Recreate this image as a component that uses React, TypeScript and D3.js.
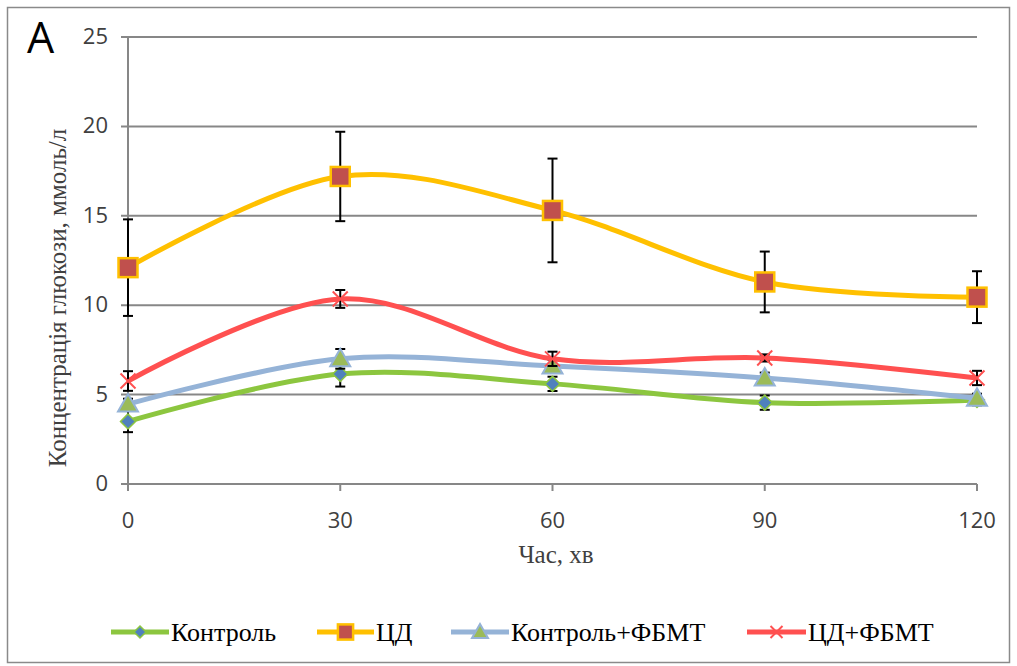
import React from "react";
import * as d3 from "d3";

const timePoints = [0, 30, 60, 90, 120];
const controlValues = [3.5, 6.15, 5.6, 4.55, 4.7];
const controlErrors = [0.6, 0.7, 0.4, 0.4, 0.3];
const cdValues = [12.1, 17.2, 15.3, 11.3, 10.45];
const cdErrors = [2.7, 2.5, 2.9, 1.7, 1.45];
const controlFbmtValues = [4.47, 7.0, 6.6, 5.93, 4.8];
const controlFbmtErrors = [0.3, 0.55, 0.35, 0.3, 0.25];
const cdFbmtValues = [5.76, 10.35, 7.0, 7.05, 5.93];
const cdFbmtErrors = [0.55, 0.5, 0.4, 0.2, 0.4];
const yTicks = [0, 5, 10, 15, 20, 25];
const seriesNames = ["Контроль", "ЦД", "Контроль+ФБМТ", "ЦД+ФБМТ"];

type Marker = "diamond" | "square" | "triangle" | "x";
const series = [
  { name: seriesNames[0], values: controlValues, errors: controlErrors, line: "#8cc63f", marker: "diamond" as Marker, fill: "#4f81bd", stroke: "#8cc63f" },
  { name: seriesNames[1], values: cdValues, errors: cdErrors, line: "#ffc000", marker: "square" as Marker, fill: "#c0504d", stroke: "#ffc000" },
  { name: seriesNames[2], values: controlFbmtValues, errors: controlFbmtErrors, line: "#95b3d7", marker: "triangle" as Marker, fill: "#9bbb59", stroke: "#95b3d7" },
  { name: seriesNames[3], values: cdFbmtValues, errors: cdFbmtErrors, line: "#ff5050", marker: "x" as Marker, fill: "none", stroke: "#ff5050" },
];

const W = 1017;
const H = 666;
const left = 128;
const right = 977;
const top = 37;
const bottom = 484;

const tickFont = "'Liberation Sans Narrow', 'Open Sans', Roboto, sans-serif";
const serif = "'Liberation Serif', 'DejaVu Serif', serif";

function MarkerShape({ type, cx, cy, fill, stroke, size }: { type: Marker; cx: number; cy: number; fill: string; stroke: string; size: number }) {
  if (type === "diamond") {
    const s = size * 0.75;
    return <path d={`M${cx},${cy - s} L${cx + s},${cy} L${cx},${cy + s} L${cx - s},${cy} Z`} fill={fill} stroke={stroke} strokeWidth={1.5} />;
  }
  if (type === "square") {
    const s = size * 0.95;
    return <rect x={cx - s} y={cy - s} width={2 * s} height={2 * s} fill={fill} stroke={stroke} strokeWidth={2.5} />;
  }
  if (type === "triangle") {
    const s = size * 1.0;
    return <path d={`M${cx},${cy - s} L${cx + s},${cy + s * 0.75} L${cx - s},${cy + s * 0.75} Z`} fill={fill} stroke={stroke} strokeWidth={2} />;
  }
  const s = size * 0.75;
  return (
    <g stroke={stroke} strokeWidth={2}>
      <line x1={cx - s} y1={cy - s} x2={cx + s} y2={cy + s} />
      <line x1={cx - s} y1={cy + s} x2={cx + s} y2={cy - s} />
    </g>
  );
}

export default function App() {
  const x = d3.scaleLinear().domain([0, 120]).range([left, right]);
  const y = d3.scaleLinear().domain([0, 25]).range([bottom, top]);
  const line = d3
    .line<number>()
    .x((_, i) => x(timePoints[i]))
    .y((v) => y(v))
    .curve(d3.curveCardinal.tension(0));

  const legendItems = [
    { lx: 111, rx: 169, tx: 171 },
    { lx: 317, rx: 374, tx: 376 },
    { lx: 451, rx: 509, tx: 511 },
    { lx: 747, rx: 806, tx: 808 },
  ];
  const legendY = 632;

  return (
    <svg width={W} height={H} style={{ position: "absolute", left: 0, top: 0 }}>
      <rect x={0} y={0} width={W} height={H} fill="#fff" />
      <rect x={7.5} y={7.5} width={1002} height={655} fill="none" stroke="#8a8a8a" strokeWidth={1.5} />
      <text x={27} y={53} fontFamily="'Open Sans', sans-serif" fontSize={43} fill="#000">A</text>

      {yTicks.map((t) => (
        <g key={t}>
          <line x1={left - 7} x2={right} y1={y(t)} y2={y(t)} stroke="#878787" strokeWidth={2} />
          <text x={108} y={y(t) + 7} textAnchor="end" fontFamily={tickFont} fontSize={22} fill="#404040">{t}</text>
        </g>
      ))}
      <line x1={left} x2={left} y1={top} y2={bottom + 7} stroke="#878787" strokeWidth={2} />
      {timePoints.map((t) => (
        <g key={t}>
          <line x1={x(t)} x2={x(t)} y1={bottom} y2={bottom + 7} stroke="#878787" strokeWidth={2} />
          <text x={x(t)} y={528} textAnchor="middle" fontFamily={tickFont} fontSize={22} fill="#404040">{t}</text>
        </g>
      ))}

      <text x={556} y={563} textAnchor="middle" fontFamily={serif} fontSize={25} fill="#404040">Час, хв</text>
      <text transform={`translate(66, 298) rotate(-90)`} textAnchor="middle" fontFamily={serif} fontSize={25} fill="#404040">
        Концентрація глюкози, ммоль/л
      </text>

      {series.map((s) => (
        <g key={s.name}>
          <path d={line(s.values) || ""} fill="none" stroke={s.line} strokeWidth={5} />
          {s.values.map((v, i) => (
            <g key={i} stroke="#000" strokeWidth={2}>
              <line x1={x(timePoints[i])} x2={x(timePoints[i])} y1={y(v - s.errors[i])} y2={y(v + s.errors[i])} />
              <line x1={x(timePoints[i]) - 5} x2={x(timePoints[i]) + 5} y1={y(v - s.errors[i])} y2={y(v - s.errors[i])} />
              <line x1={x(timePoints[i]) - 5} x2={x(timePoints[i]) + 5} y1={y(v + s.errors[i])} y2={y(v + s.errors[i])} />
            </g>
          ))}
          {s.values.map((v, i) => (
            <MarkerShape key={"m" + i} type={s.marker} cx={x(timePoints[i])} cy={y(v)} fill={s.fill} stroke={s.stroke} size={10} />
          ))}
        </g>
      ))}

      {series.map((s, i) => {
        const it = legendItems[i];
        return (
          <g key={"lg" + i}>
            <line x1={it.lx} x2={it.rx} y1={legendY} y2={legendY} stroke={s.line} strokeWidth={5} />
            <MarkerShape type={s.marker} cx={(it.lx + it.rx) / 2} cy={legendY} fill={s.fill} stroke={s.stroke} size={8} />
            <text x={it.tx} y={legendY + 9} fontFamily={serif} fontSize={26} fill="#000">{s.name}</text>
          </g>
        );
      })}
    </svg>
  );
}
